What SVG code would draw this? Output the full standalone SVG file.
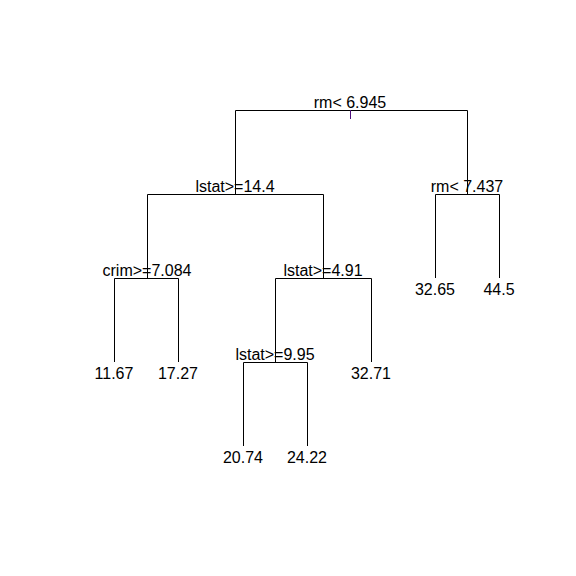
<svg xmlns="http://www.w3.org/2000/svg" width="576" height="576" viewBox="0 0 576 576">
  <style>
    .edge { fill: none; stroke: #000; stroke-width: 1; }
    .lbl { font-family: "Liberation Sans", Arial, sans-serif; font-size: 16px; fill: #000; text-anchor: middle; }
    .tick { stroke: #4b0f7a; stroke-width: 1; }
  </style>
  <rect width="576" height="576" fill="#fff"/>

  <!-- branches of the regression tree -->
  <g id="connectors">
    <path class="edge" d="M235.5,194 V110.5 H467.5 V194"/>
    <path class="edge" d="M147.5,278 V194.5 H323.5 V278"/>
    <path class="edge" d="M435.5,278 V194.5 H499.5 V278"/>
    <path class="edge" d="M114.5,362 V278.5 H178.5 V362"/>
    <path class="edge" d="M275.5,362 V278.5 H371.5 V362"/>
    <path class="edge" d="M243.5,446 V362.5 H307.5 V446"/>
    <line class="tick" x1="350.5" y1="110" x2="350.5" y2="119"/>
  </g>

  <!-- split nodes -->
  <g id="n1"><text class="lbl" x="350" y="108">rm&lt; 6.945</text></g>
  <g id="n2"><text class="lbl" x="235" y="192">lstat&gt;=14.4</text></g>
  <g id="n3"><text class="lbl" x="467" y="192">rm&lt; 7.437</text></g>
  <g id="n4"><text class="lbl" x="147" y="276">crim&gt;=7.084</text></g>
  <g id="n5"><text class="lbl" x="323" y="276">lstat&gt;=4.91</text></g>
  <g id="n10"><text class="lbl" x="275" y="360">lstat&gt;=9.95</text></g>

  <!-- leaves -->
  <g id="leaf1"><text class="lbl" x="114" y="379">11.67</text></g>
  <g id="leaf2"><text class="lbl" x="178" y="379">17.27</text></g>
  <g id="leaf3"><text class="lbl" x="243" y="463">20.74</text></g>
  <g id="leaf4"><text class="lbl" x="307" y="463">24.22</text></g>
  <g id="leaf5"><text class="lbl" x="371" y="379">32.71</text></g>
  <g id="leaf6"><text class="lbl" x="435" y="295">32.65</text></g>
  <g id="leaf7"><text class="lbl" x="499" y="295">44.5</text></g>
</svg>
